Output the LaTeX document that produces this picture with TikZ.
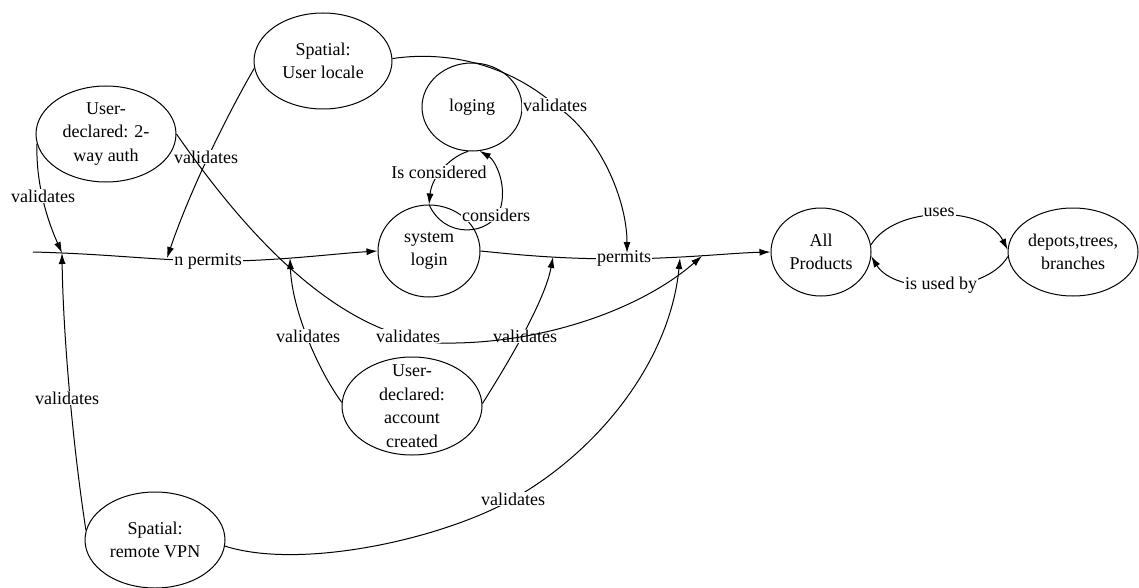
\documentclass[tikz,border=0pt]{standalone}
\usepackage{fontspec}
\setmainfont{Liberation Serif}
\newfontfamily\diagramfont{Liberation Serif}
\usetikzlibrary{shapes.geometric,arrows.meta}
\begin{document}
\begin{tikzpicture}[x=1pt,y=-1pt,
  every node/.style={font=\diagramfont\fontsize{18}{23.5}\selectfont},
  state/.style={draw,ellipse,line width=1pt,inner sep=0pt},
  txt/.style={align=center,inner sep=0pt},
  rel/.style={line width=1pt,-{Latex[length=11pt,width=7pt]}},
  lbl/.style={fill=white,inner sep=1pt}]
\fill[white] (0,0) rectangle (1139,588);
\useasboundingbox (0,0) rectangle (1139,588);

% concepts
\node[state,minimum width=140pt,minimum height=96pt,
      label={[txt]center:{User-\\declared: 2-\\way auth}}] (auth) at (106,134) {};
\node[state,minimum width=138pt,minimum height=96pt,
      label={[txt]center:{Spatial:\\User locale}}] (locale) at (323,61) {};
\node[state,minimum width=100pt,minimum height=88pt,
      label={[txt]center:{loging}}] (loging) at (472,107) {};
\node[state,minimum width=102pt,minimum height=92pt,
      label={[txt]center:{system\\login}}] (login) at (429,251) {};
\node[state,minimum width=100pt,minimum height=88pt,
      label={[txt]center:{All\\Products}}] (allprod) at (821,252) {};
\node[state,minimum width=130pt,minimum height=88pt,
      label={[txt]center:{depots,trees,\\branches}}] (depots) at (1073,252) {};
\node[state,minimum width=140pt,minimum height=98pt,
      label={[txt]center:{User-\\declared:\\account\\created}}] (account) at (412,406) {};
\node[state,minimum width=140pt,minimum height=96pt,
      label={[txt]center:{Spatial:\\remote VPN}}] (vpn) at (155,540) {};

% loose end and points where relations attach to other relations
\coordinate (astart) at (33,252);
\coordinate (pA1) at (62,253);
\coordinate (pA2) at (167,258);
\coordinate (pA3) at (290,258);
\coordinate (pB1) at (553,257);
\coordinate (pB2) at (627,253);
\coordinate (pB3) at (680,258);
\coordinate (pB4) at (702,256);

% main "permits" chain
\draw[rel] (astart) .. controls (110,254) and (150,260) .. (210,261)
           .. controls (270,262) and (330,254) .. (login.west);
\draw[rel] (login.east) .. controls (520,255) and (560,259) .. (624,259)
           .. controls (690,258) and (730,253) .. (allprod.west);

% validations of the first "permits"
\draw[rel] (auth.188) .. controls (36,180) and (45,215) .. (pA1);
\draw[rel] (vpn.172) .. controls (72,440) and (63,330) .. (pA1);
\draw[rel] (locale.186) .. controls (230,110) and (192,185) .. (pA2);
\draw[rel] (account.177) .. controls (318,370) and (292,310) .. (pA3);

% validations of the second "permits"
\draw[rel] (account.2) .. controls (510,360) and (545,300) .. (pB1);
\draw[rel] (vpn.355) .. controls (300,570) and (440,540) .. (513,499)
           .. controls (600,450) and (670,360) .. (pB3);

% login / loging loop
\draw[rel] (login.north) .. controls (445,240) and (490,235) .. (500,210)
           .. controls (508,185) and (495,160) .. (loging.280);
\draw[rel] (loging.265) .. controls (452,156) and (432,175) .. (login.north);

% products and depots
\draw[rel] (allprod.8) .. controls (895,205) and (985,205) .. (depots.178);
\draw[rel] (depots.184) .. controls (985,295) and (895,295) .. (allprod.355);

% relation labels
\node[lbl] (l-np) at (208,261) {n permits};
\node[lbl] (l-perm) at (624,258) {permits};
\node[lbl] (l1) at (43,196) {validates};
\node[lbl] (l2) at (67,398) {validates};
\node[lbl] (l3) at (206,157) {validates};
\node[lbl] (l4) at (308,336) {validates};
\node[lbl] (l6) at (525,336) {validates};
\node[lbl] (l8) at (513,499) {validates};
\node[lbl] (l-isc) at (439,172) {Is considered};
\node[lbl] (l-cons) at (496,215) {considers};
\node[lbl] (l-uses) at (939,212) {uses};
\node[lbl] (l-usedby) at (941,285) {is used by};

% long validations drawn over the labels they cross
\draw[rel] (auth.east) .. controls (250,240) and (340,335) .. (440,343)
           .. controls (540,345) and (640,310) .. (pB4);
\draw[rel] (locale.2) .. controls (450,50) and (510,66) .. (555,105)
           .. controls (600,135) and (627,200) .. (pB2);
\node[lbl] (l5) at (408,336) {validates};
\node[lbl] (l7) at (555,105) {validates};
\end{tikzpicture}
\end{document}
